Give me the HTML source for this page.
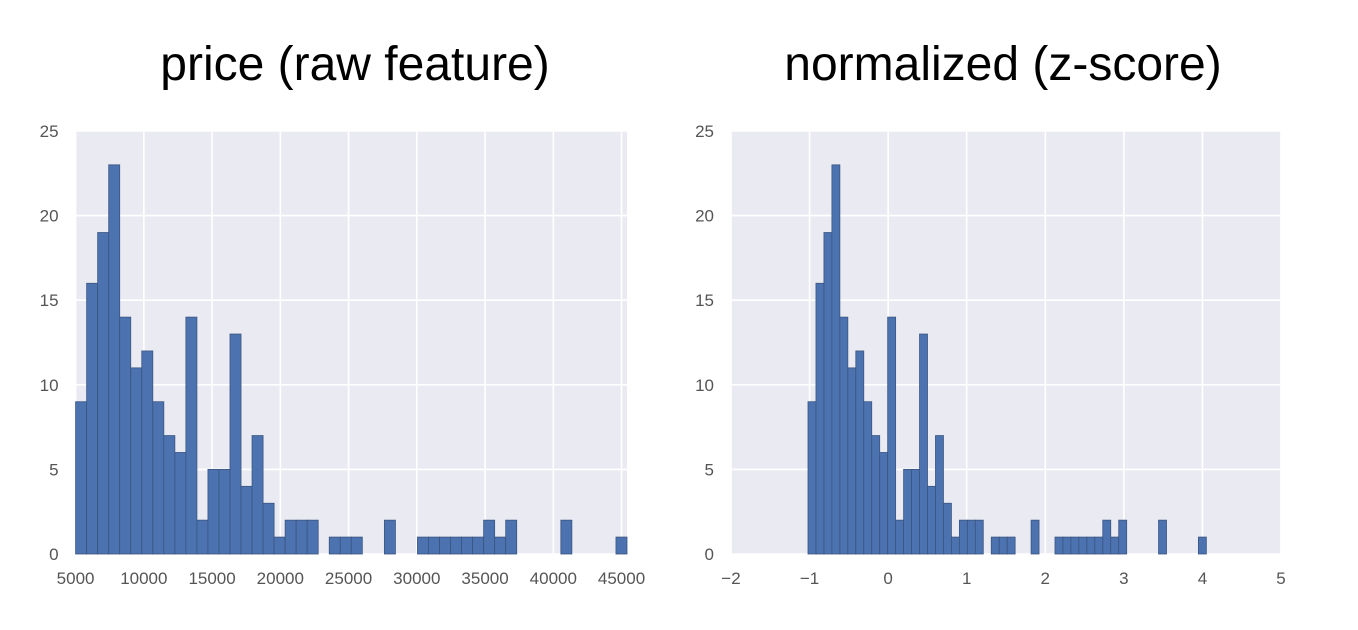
<!DOCTYPE html>
<html><head><meta charset="utf-8"><style>
body{margin:0;background:#fff;width:1358px;height:630px;overflow:hidden}
svg{display:block}
text{font-family:"Liberation Sans",sans-serif}
</style></head><body>
<svg id="fig" width="1358" height="630">
<text x="355" y="80" font-size="48" text-anchor="middle" fill="#000">price (raw feature)</text>
<text x="1003" y="80" font-size="48" text-anchor="middle" fill="#000">normalized (z-score)</text>
</svg>
<script>
const counts = [9,16,19,23,14,11,12,9,7,6,14,2,5,5,13,4,7,3,1,2,2,2,0,1,1,1,0,0,2,0,0,1,1,1,1,1,1,2,1,2,0,0,0,0,2,0,0,0,0,1];
const yTicks = [0,5,10,15,20,25];
const priceTicks = [5000,10000,15000,20000,25000,30000,35000,40000,45000];
const priceRange = [5000,45400];
const zTicks = [-2,-1,0,1,2,3,4,5];
const zRange = [-1.02,4.05];
const NS='http://www.w3.org/2000/svg';
const svg=document.getElementById('fig');
function mk(tag,attrs,parent){const e=document.createElementNS(NS,tag);for(const k in attrs)e.setAttribute(k,attrs[k]);(parent||svg).appendChild(e);return e;}
function chart(name,px0,px1,xd0,xd1,xTicks,binRange,labelFn){
  const py0=554, py1=131;
  const sx=v=>px0+(v-xd0)/(xd1-xd0)*(px1-px0);
  const sy=v=>py0-(v/25)*(py0-py1);
  const g=mk('g',{});
  
  
  const bg=mk('rect',{x:px0,y:py1,width:px1-px0,height:py0-py1,fill:'#EAEAF2'},g);
  
  
  yTicks.forEach(t=>{
    const l=mk('line',{x1:px0,x2:px1,y1:sy(t),y2:sy(t),stroke:'#fff','stroke-width':1.6},g);
    
    
    const tx=mk('text',{x:px0-17,y:sy(t)+6,'font-size':17,'text-anchor':'end',fill:'#555'},g);
    tx.textContent=t;
    
    
  });
  xTicks.forEach(t=>{
    const x=sx(t);
    if(x>=px0-1&&x<=px1+1){
      const l=mk('line',{x1:x,x2:x,y1:py1,y2:py0,stroke:'#fff','stroke-width':1.6},g);
      
      
    }
    const tx=mk('text',{x:x,y:py0+30,'font-size':17,'text-anchor':'middle',fill:'#555'},g);
    tx.textContent=labelFn(t);
    
    
  });
  const n=counts.length, w=(binRange[1]-binRange[0])/n;
  counts.forEach((c,i)=>{
    if(c<=0)return;
    const x0=sx(binRange[0]+i*w), x1=sx(binRange[0]+(i+1)*w);
    const r=mk('rect',{x:x0,y:sy(c),width:x1-x0,height:sy(0)-sy(c),fill:'#4C72B0',stroke:'#3a5680','stroke-width':0.8},g);
    
    
  });
}
chart('price',75.6,627,5000,45400,priceTicks,priceRange,t=>String(t));
chart('zscore',731,1281,-2,5,zTicks,zRange,t=>t<0?'\u2212'+(-t):String(t));
</script>
</body></html>
